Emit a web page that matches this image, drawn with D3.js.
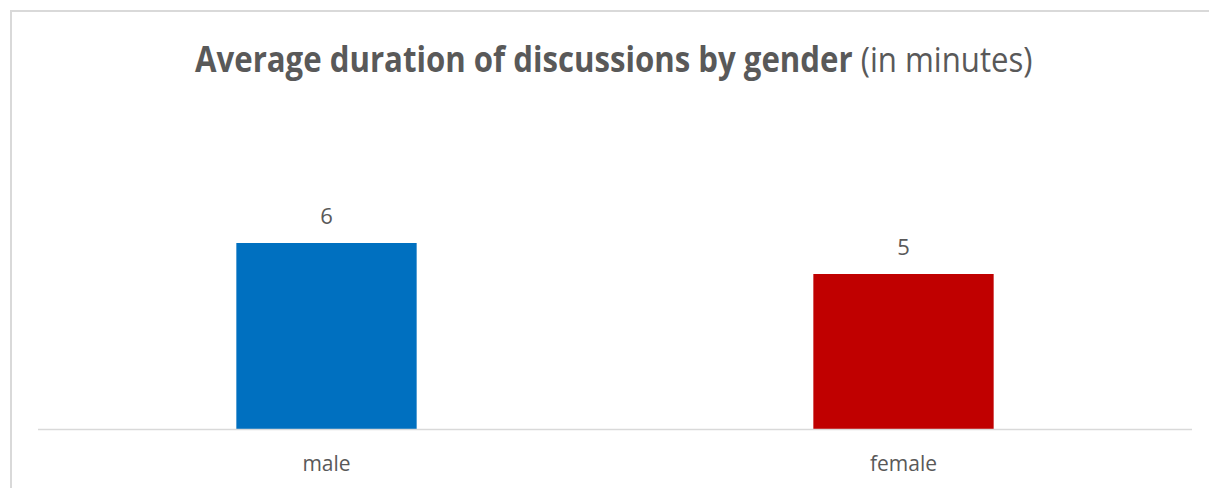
<!DOCTYPE html>
<html><head><meta charset="utf-8">
<script src="https://cdn.jsdelivr.net/npm/d3@7"></script>
<style>html,body{margin:0;padding:0;background:#fff;}svg{display:block;}</style>
</head><body>
<svg id="c" width="1209" height="488"></svg>
<script>
const categories = ["male", "female"];
const values = [6, 5];
const colors = ["#0070C0", "#C00000"];
const titleBold = "Average duration of discussions by gender";
const titleNormal = " (in minutes)";

const svg = d3.select("#c");
const W = 1209, H = 488;
const font = "'Open Sans', sans-serif";
const textColor = "#595959";

// chart border (top and left visible)
svg.append("path")
  .attr("d", "M11,488 V11 H1209")
  .attr("fill", "none").attr("stroke", "#d9d9d9").attr("stroke-width", 2);

const x = d3.scaleBand().domain(categories).range([38, 1192])
  .paddingInner(0.6875).paddingOuter(0.34375);
const y = d3.scaleLinear().domain([0, 7]).range([429, 212]);

// bars
svg.selectAll("rect.bar").data(categories).join("rect")
  .attr("class", "bar")
  .attr("x", d => x(d))
  .attr("width", x.bandwidth())
  .attr("y", (d, i) => y(values[i]))
  .attr("height", (d, i) => y(0) - y(values[i]))
  .attr("fill", (d, i) => colors[i]);

// baseline axis
const xAxis = d3.axisBottom(x).tickSize(0).tickPadding(0);
const ax = svg.append("g").attr("transform", `translate(0,${y(0)})`).call(xAxis);
ax.select(".domain").attr("stroke", "#d9d9d9").attr("stroke-width", 1.5)
  .attr("d", "M38,0.5H1192");
ax.selectAll(".tick text")
  .attr("y", 42).attr("dy", 0)
  .attr("font-family", font).attr("font-size", 21).attr("fill", textColor);

// value labels
svg.selectAll("text.val").data(categories).join("text")
  .attr("class", "val")
  .attr("x", d => x(d) + x.bandwidth() / 2)
  .attr("y", (d, i) => y(values[i]) - 19)
  .attr("text-anchor", "middle")
  .attr("font-family", font).attr("font-size", 22).attr("fill", textColor)
  .text((d, i) => values[i]);

// title
const t = svg.append("text")
  .attr("font-family", font).attr("font-size", 35).attr("fill", textColor);
t.append("tspan").attr("font-weight", "bold").text(titleBold);
t.append("tspan").attr("font-weight", "normal").text(titleNormal);
const bb = t.node().getBBox();
const targetW = 838, targetX = 195, baseY = 72;
const sx = targetW / bb.width;
t.attr("transform", `translate(${targetX},${baseY}) scale(${sx},1)`);
</script>
</body></html>
